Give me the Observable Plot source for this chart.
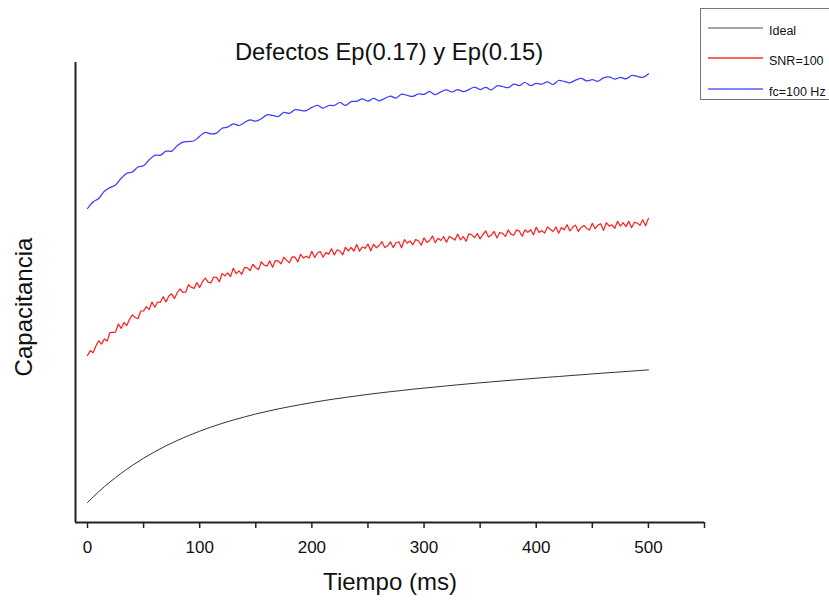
<!DOCTYPE html>
<html>
<head>
<meta charset="utf-8">
<script src="https://cdn.jsdelivr.net/npm/d3@7"></script>
<script src="https://cdn.jsdelivr.net/npm/@observablehq/plot@0.6"></script>
<style>
  html, body { margin: 0; padding: 0; background: #fff; }
  #wrap { position: relative; width: 829px; height: 601px; overflow: hidden; font-family: "Liberation Sans", Arial, sans-serif; }
  #wrap > svg.plot { position: absolute; left: 0; top: 0; }
  .title { position: absolute; left: 389px; top: 38px; transform: translateX(-50%); font-size: 23.8px; white-space: nowrap; color: #111; }
  .xlab { position: absolute; left: 390px; top: 568px; transform: translateX(-50%); font-size: 24px; white-space: nowrap; color: #111; }
  .ylab { position: absolute; left: 24px; top: 307px; transform: translate(-50%, -50%) rotate(-90deg); font-size: 24px; white-space: nowrap; color: #111; }
  .legend { position: absolute; left: 700px; top: 8px; width: 140px; height: 92px; border: 1px solid #777; box-sizing: border-box; background: #fff; }
  .legend svg { position: absolute; left: 0; top: 0; }
  .legend .tx { position: absolute; left: 68px; font-size: 12.5px; color: #111; white-space: nowrap; line-height: 14px; }
</style>
</head>
<body>
<div id="wrap"></div>
<script>
// ---- data ----
const seriesNames = ["Ideal", "SNR=100", "fc=100 Hz"];
const seriesColors = ["#333333", "#ff1a1a", "#3c3cff"];
const legendColors = ["#8a8a8a", "#ff3030", "#5a5aff"];

const xTicksMajor = [0, 100, 200, 300, 400, 500];
const xTicksAll = [0, 50, 100, 150, 200, 250, 300, 350, 400, 450, 500, 550];

const idealStep = 10;
const idealValues = [
  2.00, 3.08, 4.05, 4.92, 5.71, 6.43, 7.08, 7.67, 8.20, 8.69,
  9.13, 9.54, 9.91, 10.25, 10.56, 10.85, 11.11, 11.36, 11.58, 11.79,
  11.99, 12.18, 12.35, 12.51, 12.66, 12.81, 12.95, 13.08, 13.20, 13.33,
  13.44, 13.55, 13.66, 13.77, 13.87, 13.97, 14.06, 14.16, 14.25, 14.34,
  14.43, 14.52, 14.60, 14.69, 14.77, 14.86, 14.94, 15.02, 15.10, 15.18,
  15.26
];

const snrStep = 2.5;
const snrValues = [
  16.70, 17.19, 16.97, 17.65, 18.17, 17.84, 18.35, 18.14, 19.00, 19.02,
  19.04, 19.85, 19.41, 20.00, 19.69, 20.32, 20.76, 20.50, 20.38, 21.15,
  21.17, 21.58, 21.29, 22.05, 21.53, 22.05, 22.02, 22.58, 22.06, 22.66,
  22.87, 22.39, 22.98, 23.35, 23.02, 23.03, 23.77, 23.52, 23.41, 23.99,
  23.49, 24.08, 24.45, 24.03, 23.95, 24.55, 24.51, 24.08, 24.91, 24.66,
  24.96, 24.59, 25.42, 24.88, 25.16, 24.82, 25.51, 25.46, 25.19, 25.82,
  25.47, 25.29, 26.07, 25.74, 25.65, 26.16, 25.52, 26.19, 26.16, 25.86,
  26.53, 26.21, 25.98, 26.57, 26.53, 26.06, 26.82, 26.44, 26.63, 26.44,
  27.12, 26.50, 26.95, 27.10, 26.53, 26.99, 26.84, 27.38, 26.76, 27.27,
  27.15, 26.77, 27.52, 27.16, 27.50, 27.15, 27.81, 27.13, 27.55, 27.42,
  27.85, 27.18, 27.83, 27.47, 27.70, 28.08, 27.50, 27.67, 28.07, 27.49,
  27.97, 28.07, 27.47, 28.29, 27.93, 28.16, 27.77, 28.29, 28.17, 27.73,
  28.47, 28.01, 28.20, 28.64, 27.97, 28.42, 28.20, 28.60, 28.02, 28.60,
  28.45, 28.24, 28.84, 28.26, 28.59, 28.13, 28.87, 28.77, 28.49, 28.89,
  28.36, 28.80, 29.15, 28.56, 28.74, 29.11, 28.45, 29.00, 28.91, 28.61,
  29.26, 28.84, 28.73, 29.26, 29.12, 28.62, 29.27, 29.01, 29.28, 28.78,
  29.53, 29.01, 29.19, 28.94, 29.56, 29.33, 29.10, 29.55, 28.93, 29.50,
  29.27, 29.78, 29.15, 29.52, 29.74, 29.11, 29.51, 29.71, 29.41, 29.25,
  29.92, 29.38, 29.74, 29.87, 29.21, 29.98, 29.64, 29.77, 29.42, 30.12,
  29.64, 29.98, 29.59, 30.11, 29.48, 30.03, 29.94, 29.72, 30.27, 29.67,
  30.41
];

const fcStep = 5;
const fcValues = [
  31.40, 32.06, 32.40, 33.12, 33.49, 33.76, 34.42, 34.92, 35.05, 35.55,
  35.67, 36.27, 36.72, 36.73, 37.13, 37.14, 37.68, 38.03, 38.09, 38.17,
  38.63, 39.02, 38.86, 38.94, 39.43, 39.54, 39.87, 39.70, 40.00, 40.26,
  40.13, 40.38, 40.77, 40.71, 40.60, 41.01, 40.92, 41.29, 41.21, 41.19,
  41.51, 41.72, 41.44, 41.70, 41.71, 42.01, 41.71, 42.09, 42.12, 42.36,
  42.13, 42.42, 42.17, 42.41, 42.64, 42.44, 42.84, 42.71, 42.61, 42.86,
  42.82, 43.08, 42.79, 43.07, 43.26, 43.05, 43.29, 43.08, 43.29, 43.54,
  43.29, 43.51, 43.26, 43.67, 43.60, 43.48, 43.83, 43.69, 44.00, 43.68,
  43.91, 43.83, 44.06, 43.80, 44.20, 44.11, 43.97, 44.23, 44.41, 44.16,
  44.28, 44.12, 44.46, 44.56, 44.34, 44.52, 44.36, 44.70, 44.62, 44.52,
  44.86
];

// ---- build tables ----
const idealRows = idealValues.map((v, i) => ({t: i * idealStep, c: v, s: seriesNames[0]}));
const snrRows = snrValues.map((v, i) => ({t: i * snrStep, c: v, s: seriesNames[1]}));
const fcRows = fcValues.map((v, i) => ({t: i * fcStep, c: v, s: seriesNames[2]}));

const xDomain = [-10.7, 550];
const yDomain = [0, 46];

const chart = Plot.plot({
  width: 829,
  height: 601,
  marginLeft: 75,
  marginRight: 125,
  marginTop: 62,
  marginBottom: 79,
  style: {fontFamily: "'Liberation Sans', Arial, sans-serif", fontSize: "17px", color: "#111", background: "transparent"},
  x: {domain: xDomain},
  y: {domain: yDomain, axis: null},
  color: {domain: seriesNames, range: seriesColors},
  marks: [
    Plot.axisX({
      ticks: xTicksAll,
      tickSize: 6,
      tickPadding: 12,
      tickFormat: d => xTicksMajor.includes(d) ? String(d) : "",
      label: null,
      stroke: "#222",
      strokeWidth: 1.5,
      fontSize: 17
    }),
    Plot.line(idealRows, {x: "t", y: "c", stroke: "s", strokeWidth: 1, curve: "monotone-x"}),
    Plot.line(snrRows, {x: "t", y: "c", stroke: "s", strokeWidth: 1.2}),
    Plot.line(fcRows, {x: "t", y: "c", stroke: "s", strokeWidth: 1.25, curve: "catmull-rom"}),
    Plot.ruleX([xDomain[0]], {y1: yDomain[0], y2: yDomain[1], stroke: "#222", strokeWidth: 2}),
    Plot.ruleY([yDomain[0]], {x1: xDomain[0], x2: xDomain[1], stroke: "#222", strokeWidth: 2})
  ]
});

const wrap = document.getElementById("wrap");
wrap.appendChild(chart);

function addDiv(cls, text) {
  const d = document.createElement("div");
  d.className = cls;
  d.textContent = text;
  wrap.appendChild(d);
  return d;
}
addDiv("title", "Defectos Ep(0.17) y Ep(0.15)");
addDiv("xlab", "Tiempo (ms)");
addDiv("ylab", "Capacitancia");

// legend
const legend = document.createElement("div");
legend.className = "legend";
const ns = "http://www.w3.org/2000/svg";
const lsvg = document.createElementNS(ns, "svg");
lsvg.setAttribute("width", "140");
lsvg.setAttribute("height", "92");
legend.appendChild(lsvg);
const legendRowsY = [19, 49, 80];
seriesNames.forEach((name, i) => {
  const ln = document.createElementNS(ns, "line");
  ln.setAttribute("x1", "7");
  ln.setAttribute("x2", "62");
  ln.setAttribute("y1", legendRowsY[i]);
  ln.setAttribute("y2", legendRowsY[i]);
  ln.setAttribute("stroke", legendColors[i]);
  ln.setAttribute("stroke-width", "1.6");
  lsvg.appendChild(ln);
  const tx = document.createElement("div");
  tx.className = "tx";
  tx.style.top = (legendRowsY[i] - 4) + "px";
  tx.textContent = name;
  legend.appendChild(tx);
});
wrap.appendChild(legend);
</script>
</body>
</html>
